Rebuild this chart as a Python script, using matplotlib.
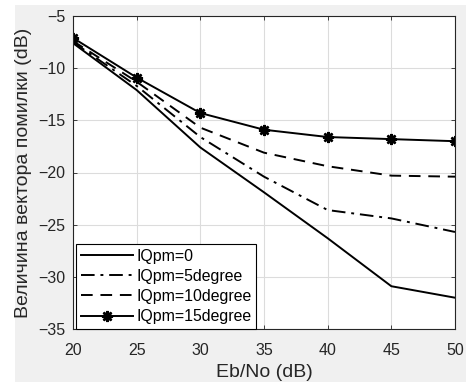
import matplotlib
matplotlib.use('Agg')
from matplotlib import pyplot as plt
from matplotlib.patches import Rectangle

plt.rcParams['font.family'] = ['Liberation Sans', 'DejaVu Sans']

ebno = [20, 25, 30, 35, 40, 45, 50]
evm_0 = [-7.6, -12.1, -17.6, -21.9, -26.3, -30.9, -32.0]
evm_5 = [-7.5, -11.7, -16.6, -20.4, -23.6, -24.4, -25.7]
evm_10 = [-7.4, -11.3, -15.7, -18.1, -19.4, -20.3, -20.4]
evm_15 = [-7.1, -10.9, -14.3, -15.9, -16.6, -16.8, -17.0]
labels = ['IQpm=0', 'IQpm=5degree', 'IQpm=10degree', 'IQpm=15degree']

fig = plt.figure(figsize=(4.66, 3.82), dpi=100, facecolor='white')
# grey matlab-like figure background, leaves white strip at left/top
fig.patches.append(Rectangle((15/466, 0), 1, (382-5)/382, transform=fig.transFigure,
                             facecolor='#f0f0f0', edgecolor='none', zorder=-10))
ax = fig.add_axes([73/466, 53/382, 382/466, 313/382])

lw = 1.4
ax.plot(ebno, evm_0, color='k', lw=lw, label=labels[0])
ax.plot(ebno, evm_5, color='k', lw=lw, dashes=[7, 3, 1.5, 3], label=labels[1])
ax.plot(ebno, evm_10, color='k', lw=lw, dashes=[6, 4], label=labels[2])
ax.plot(ebno, evm_15, color='k', lw=lw, marker=(8, 2, 0), markersize=8, mew=1.8,
        label=labels[3])

ax.set_xlim(20, 50)
ax.set_ylim(-35, -5)
ax.set_xticks(range(20, 51, 5))
ax.set_yticks(range(-35, -4, 5))
ax.grid(True, color='#dcdcdc', lw=0.8)
ax.tick_params(direction='in', top=True, right=True, labelsize=11.5, colors='#262626',
               length=3, width=0.6)
ax.tick_params(axis='x', pad=10)
ax.tick_params(axis='y', pad=5.5)
for s in ax.spines.values():
    s.set_color('#262626')
    s.set_linewidth(0.8)

ax.set_xlabel('Eb/No (dB)', fontsize=14, color='#262626')
ax.set_ylabel('Величина вектора помилки (dB)', fontsize=14, color='#262626')
ax.xaxis.set_label_coords(0.5, -0.112)
ax.yaxis.set_label_coords(-0.107, 0.5)

leg = ax.legend(loc='lower left', bbox_to_anchor=(0.008, 0.0), borderaxespad=0,
                fontsize=11.4, handlelength=3.3, labelspacing=0.33, handletextpad=0.2,
                borderpad=0.3, fancybox=False, framealpha=1, edgecolor='k')
leg.get_frame().set_linewidth(0.8)

fig.savefig('out.png', dpi=100, facecolor=fig.get_facecolor())
